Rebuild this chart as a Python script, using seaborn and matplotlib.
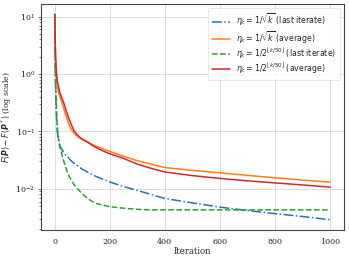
import numpy as np
import pandas as pd
import matplotlib
matplotlib.use("Agg")
import matplotlib.pyplot as plt
import seaborn as sns

iters = [1, 2, 3, 4, 6, 8, 10, 13, 16, 20, 25, 30, 35, 40, 45, 50, 55, 60, 70, 80, 90, 100,
         110, 120, 135, 150, 175, 200, 250, 300, 350, 400, 500, 600, 700, 800, 900, 1000]

sqrt_last = [11, 2.5, 1.0, 0.55, 0.25, 0.15, 0.1, 0.075, 0.065, 0.056, 0.05, 0.046, 0.042, 0.039,
             0.037, 0.035, 0.033, 0.031, 0.028, 0.026, 0.024, 0.022, 0.021, 0.0195, 0.018, 0.0165,
             0.0147, 0.0132, 0.011, 0.0094, 0.008, 0.0068, 0.0057, 0.0048, 0.0042, 0.0037, 0.0033,
             0.0029]
sqrt_avg = [11, 4.5, 2.5, 1.6, 0.95, 0.75, 0.62, 0.53, 0.46, 0.4, 0.34, 0.29, 0.24, 0.2, 0.17,
            0.145, 0.125, 0.11, 0.095, 0.085, 0.078, 0.073, 0.069, 0.066, 0.06, 0.056, 0.05, 0.045,
            0.037, 0.031, 0.027, 0.0235, 0.021, 0.019, 0.0172, 0.0156, 0.0142, 0.0131]
half_last = [11, 2.5, 1.2, 0.7, 0.35, 0.2, 0.13, 0.085, 0.065, 0.052, 0.043, 0.035, 0.029, 0.024,
             0.0205, 0.018, 0.016, 0.0145, 0.012, 0.0105, 0.0093, 0.0083, 0.0075, 0.0068, 0.0061,
             0.0056, 0.0052, 0.0049, 0.0046, 0.0044, 0.0043, 0.0043, 0.0043, 0.0043, 0.0043,
             0.0043, 0.0043, 0.0043]
half_avg = [11, 5.5, 3.3, 2.2, 1.3, 0.95, 0.78, 0.65, 0.56, 0.47, 0.4, 0.35, 0.3, 0.25, 0.21, 0.18,
            0.155, 0.135, 0.105, 0.09, 0.08, 0.074, 0.069, 0.065, 0.058, 0.053, 0.046, 0.041,
            0.034, 0.027, 0.0228, 0.0197, 0.017, 0.0152, 0.0138, 0.0127, 0.0117, 0.0107]

labels = [r"$\eta_k = 1/\sqrt{k}$ (last iterate)",
          r"$\eta_k = 1/\sqrt{k}$ (average)",
          r"$\eta_k = 1/2^{\lfloor k/50 \rfloor}$ (last iterate)",
          r"$\eta_k = 1/2^{\lfloor k/50 \rfloor}$ (average)"]
series = [sqrt_last, sqrt_avg, half_last, half_avg]
colors = ["#1f77b4", "#ff7f0e", "#2ca02c", "#d62728"]
styles = ["-.", "-", "--", "-"]

sns.set_style("whitegrid")
plt.rcParams["font.family"] = ["DejaVu Serif"]
plt.rcParams["mathtext.fontset"] = "dejavusans"
plt.rcParams["font.size"] = 5.8

fig = plt.figure(figsize=(3.49, 2.59), dpi=100)
ax = fig.add_axes([0.1175, 0.112, 0.868, 0.8726])

for lab, vals, c, ls in zip(labels, series, colors, styles):
    df = pd.DataFrame({"Iteration": iters, "val": vals})
    sns.lineplot(data=df, x="Iteration", y="val", ax=ax, color=c, linestyle=ls,
                 linewidth=1.1, label=lab)

ax.set_yscale("log")
ax.set_xticks([0, 200, 400, 600, 800, 1000])
ax.set_xlabel("Iteration", fontsize=6.2, labelpad=1)
ax.set_ylabel(r"$F(\boldsymbol{P}) - F(\boldsymbol{P}^*)$ (log scale)", fontsize=5.6, labelpad=1)
ax.tick_params(axis="both", labelsize=5.8, pad=2)
ax.tick_params(axis="y", which="both", left=True, length=2, width=0.5, color="#444444")
ax.tick_params(axis="y", which="minor", length=1.2)
ax.grid(True, which="major", color="#dddddd", linewidth=0.7)
ax.grid(False, which="minor")
for s in ax.spines.values():
    s.set_color("#444444")
    s.set_linewidth(0.8)

leg = ax.legend(loc="upper right", prop={"family": "DejaVu Sans", "size": 5.7},
                frameon=True, handlelength=2.3, borderpad=0.5, labelspacing=0.1,
                borderaxespad=0.5, handletextpad=0.7)
leg.get_frame().set_edgecolor("#dddddd")
leg.get_frame().set_linewidth(0.6)

fig.savefig("out.png", dpi=100)
